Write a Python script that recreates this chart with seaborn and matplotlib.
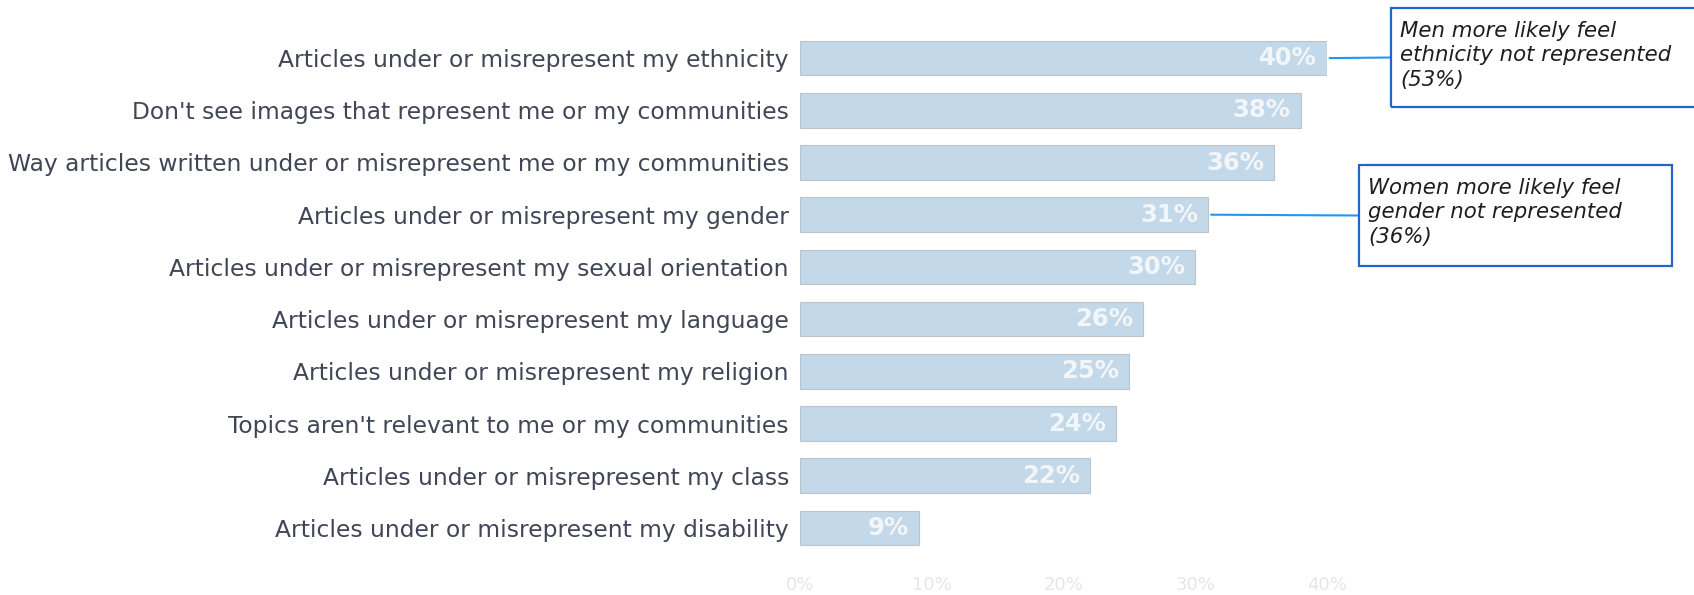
import matplotlib
matplotlib.use("Agg")
import matplotlib.pyplot as plt
import seaborn as sns
import pandas as pd
from matplotlib.patches import Rectangle

# Survey results: reasons respondents feel under- or misrepresented
categories = [
    "Articles under or misrepresent my ethnicity",
    "Don't see images that represent me or my communities",
    "Way articles written under or misrepresent me or my communities",
    "Articles under or misrepresent my gender",
    "Articles under or misrepresent my sexual orientation",
    "Articles under or misrepresent my language",
    "Articles under or misrepresent my religion",
    "Topics aren't relevant to me or my communities",
    "Articles under or misrepresent my class",
    "Articles under or misrepresent my disability",
]
values = [40, 38, 36, 31, 30, 26, 25, 24, 22, 9]
x_ticks = [0, 10, 20, 30, 40]
x_tick_labels = ["0%", "10%", "20%", "30%", "40%"]

# Call-out notes attached to specific bars
note_rows = [0, 3]
note_texts = [
    "Men more likely feel\nethnicity not represented\n(53%)",
    "Women more likely feel\ngender not represented\n(36%)",
]

df = pd.DataFrame({"reason": categories, "share": values})

sns.set_theme(style="white")
plt.rcParams["font.family"] = ["DejaVu Sans"]

W, H = 1694, 595
fig = plt.figure(figsize=(W / 100, H / 100), dpi=100)
ax = fig.add_axes([800 / W, 1 - 554 / H, (1327 - 800) / W, (554 - 32) / H])

sns.barplot(data=df, y="reason", x="share", orient="h", color="#c3d8e8",
            saturation=1, width=0.66, edgecolor="#b9c4cc", linewidth=0.8, ax=ax)

ax.set_xlim(0, 40)
ax.set_ylim(len(categories) - 0.5, -0.5)
ax.set_xticks(x_ticks)
ax.set_xticklabels(x_tick_labels, color="#e6e6e6", fontsize=13)
ax.tick_params(axis="x", length=0, pad=16)
ax.tick_params(axis="y", length=0, pad=8, labelsize=16.8, labelcolor="#414657")
ax.set_xlabel("")
ax.set_ylabel("")
for s in ax.spines.values():
    s.set_visible(False)

# Value labels inside the bar ends
for i, v in enumerate(values):
    ax.text(v - 0.75, i, f"{v}%", ha="right", va="center", fontsize=17.5,
            fontweight="bold", color="#f3f6f9")

# Call-out boxes in figure pixels: (left, top, right, bottom)
boxes = [(1391, 8, 1700, 107), (1359, 165, 1672, 266)]
for row, text, (l, t, r, b) in zip(note_rows, note_texts, boxes):
    fig.patches.append(Rectangle((l / W, 1 - b / H), (r - l) / W, (b - t) / H,
                                 transform=fig.transFigure, fill=False,
                                 edgecolor="#1f66c8", linewidth=1.6))
    fig.text((l + 9) / W, 1 - (t + 13) / H, text, ha="left", va="top",
             fontsize=15.3, style="italic", family=["DejaVu Sans"],
             color="#1e1e1e", linespacing=1.28)
    ax.annotate("", xy=(l / W, 1 - ((t + b) / 2) / H), xycoords="figure fraction",
                xytext=(values[row] + 0.2, row), textcoords="data",
                arrowprops=dict(arrowstyle="-", color="#2196f3", lw=1.5,
                                shrinkA=0, shrinkB=0),
                annotation_clip=False)

fig.savefig("out.png", dpi=100, facecolor="white")
